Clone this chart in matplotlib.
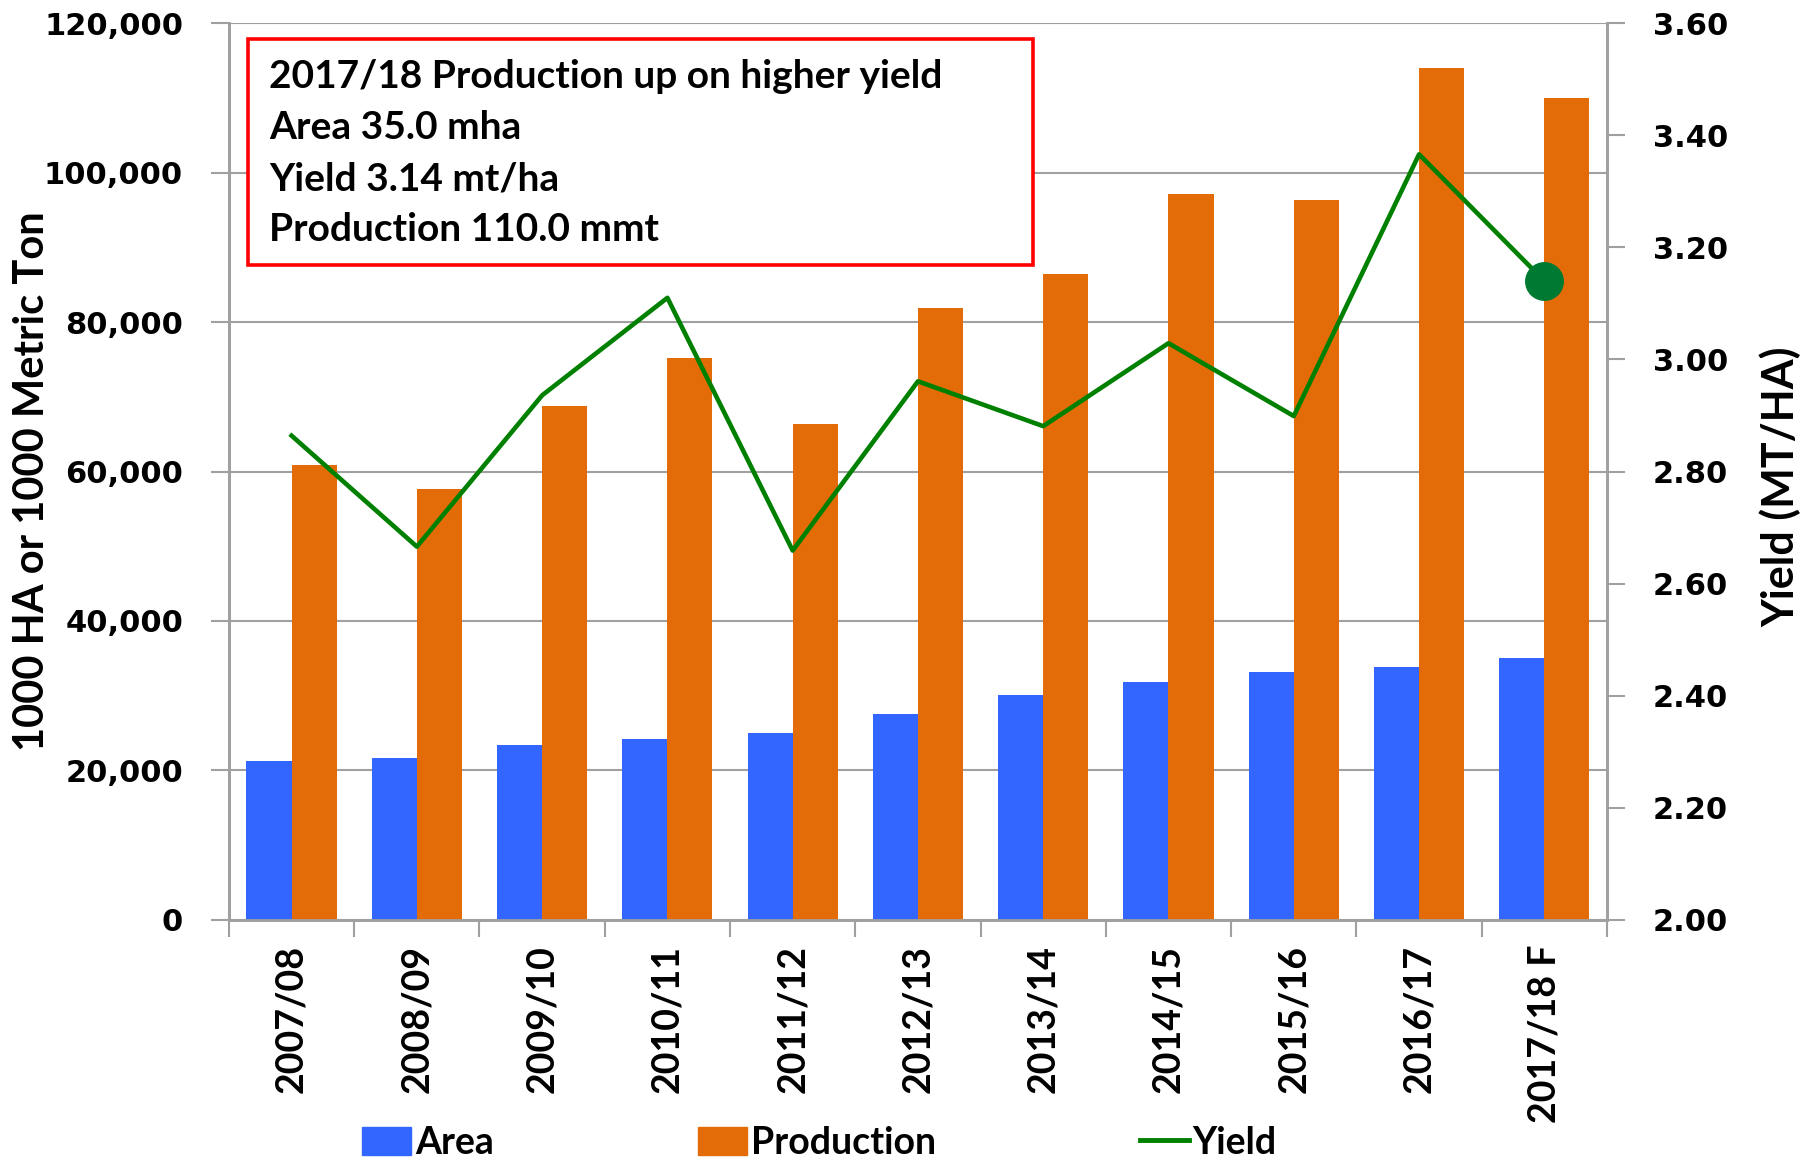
import matplotlib
matplotlib.use("Agg")
import matplotlib.pyplot as plt
from matplotlib.patches import Rectangle, Patch
from matplotlib.lines import Line2D
from matplotlib.ticker import FuncFormatter
import numpy as np

# data
years = ["2007/08", "2008/09", "2009/10", "2010/11", "2011/12", "2012/13",
         "2013/14", "2014/15", "2015/16", "2016/17", "2017/18 F"]
area = [21240, 21700, 23400, 24200, 25000, 27600, 30100, 31900, 33200, 33800, 35000]
production = [60900, 57700, 68800, 75200, 66400, 81900, 86500, 97100, 96300, 114000, 110000]
yield_ = [2.864, 2.666, 2.936, 3.110, 2.659, 2.961, 2.881, 3.029, 2.899, 3.366, 3.14]
box_lines = ["2017/18 Production up on higher yield", "Area 35.0 mha",
             "Yield 3.14 mt/ha", "Production 110.0 mmt"]

lab_font = "Lato"

c_area = "#3366ff"
c_prod = "#e36c09"
c_yield = "#008000"
grid_c = "#a0a0a0"

fig = plt.figure(figsize=(18.17, 11.6), dpi=100)
ax = fig.add_axes([0.126, 0.207, 0.7584, 0.773])
ax2 = ax.twinx()

x = np.arange(len(years))
w = 0.36
ax.bar(x - w / 2, area, w, color=c_area, zorder=3)
ax.bar(x + w / 2, production, w, color=c_prod, zorder=3)
ax.set_xlim(-0.5, len(years) - 0.5)
ax.set_ylim(0, 120000)
ax.set_yticks(np.arange(0, 120001, 20000))
ax.yaxis.set_major_formatter(FuncFormatter(lambda v, p: "{:,.0f}".format(v)))
ax.grid(axis="y", color=grid_c, linewidth=1.5, zorder=0)
ax.set_axisbelow(True)

ax2.plot(x, yield_, color=c_yield, linewidth=3.3, zorder=5)
ax2.plot(x[-1], yield_[-1], "o", color="#007a33", markersize=27, zorder=6)
ax2.set_ylim(2.0, 3.6)
ax2.set_yticks(np.arange(2.0, 3.61, 0.2))
ax2.yaxis.set_major_formatter(FuncFormatter(lambda v, p: "{:.2f}".format(v)))

for a in (ax, ax2):
    for s in a.spines.values():
        s.set_color(grid_c)
        s.set_linewidth(2)
    a.spines["top"].set_visible(False)

ax.set_xticks(x)
ax.set_xticklabels(years, rotation=90, fontfamily=lab_font, fontweight="bold", fontsize=27)
ax.tick_params(axis="x", length=0, pad=18)
ax.set_xticks(np.arange(-0.5, len(years), 1), minor=True)
ax.tick_params(axis="x", which="minor", length=12, width=1.5, color=grid_c)
ax.tick_params(axis="y", length=13, width=1.5, color=grid_c, pad=20, labelsize=22)
ax2.tick_params(axis="y", length=13, width=1.5, color=grid_c, pad=20, labelsize=22)
for lab in ax.get_yticklabels() + ax2.get_yticklabels():
    lab.set_fontweight("bold")
    lab.set_fontfamily("DejaVu Sans")

fig.text(0.0175, 0.585, "1000 HA or 1000 Metric Ton", rotation=90, ha="center", va="center",
         fontfamily=lab_font, fontweight="bold", fontsize=30)
fig.text(0.98, 0.58, "Yield (MT/HA)", rotation=90, ha="center", va="center",
         fontfamily=lab_font, fontweight="bold", fontsize=31)

# annotation box
fig.patches.append(Rectangle((0.1365, 0.7716), 0.432, 0.1948, transform=fig.transFigure,
                             facecolor="white", edgecolor="#ff0000", linewidth=2.6, zorder=10))
for i, t in enumerate(box_lines):
    fig.text(0.148, 0.934 - i * 0.044, t, ha="left", va="center", fontfamily=lab_font,
             fontweight="bold", fontsize=28, zorder=11)

handles = [Patch(color=c_area), Patch(color=c_prod), Line2D([], [], color=c_yield, linewidth=3.5)]
fig.legend(handles, ["Area", "Production", "Yield"], loc="lower center", ncol=3,
           bbox_to_anchor=(0.451, -0.029), frameon=False, handlelength=1.3, handleheight=0.75,
           handletextpad=0.1, columnspacing=5.45,
           prop={"family": lab_font, "weight": "bold", "size": 27})

fig.savefig("out.png", dpi=100)
